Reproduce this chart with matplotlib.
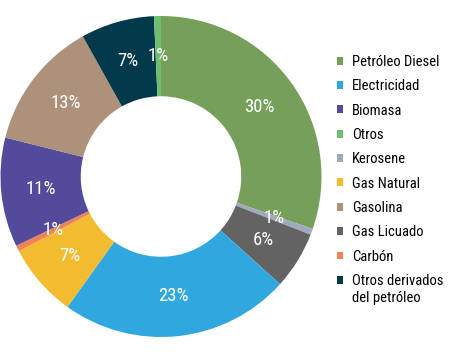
import matplotlib.pyplot as plt
from matplotlib.patches import Patch
from matplotlib.transforms import IdentityTransform

plt.rcParams['font.family'] = ['Roboto Condensed', 'Liberation Sans Narrow',
                               'Liberation Sans', 'DejaVu Sans']

# Wedges in drawing order (clockwise from the top)
labels = ['Petróleo Diesel', 'Kerosene', 'Gas Licuado', 'Electricidad', 'Gas Natural',
          'Carbón', 'Biomasa', 'Gasolina', 'Otros derivados', 'Otros']
shares = [30.3, 0.6, 5.8, 23.2, 7.4, 0.6, 11.0, 13.0, 7.4, 0.7]
colors = ['#76a05a', '#a1a9bf', '#636363', '#30a8df', '#f3bb30',
          '#f08353', '#524a9b', '#ad917b', '#023a4c', '#6dbe6e']

# Legend order as in the reference
legend_order = ['Petróleo Diesel', 'Electricidad', 'Biomasa', 'Otros', 'Kerosene',
                'Gas Natural', 'Gasolina', 'Gas Licuado', 'Carbón', 'Otros derivados']

fig = plt.figure(figsize=(4.49, 3.54), dpi=100)
ax = fig.add_axes([0.0, 17 / 354, 322 / 449, 321 / 354])

wedges, texts, autotexts = ax.pie(
    shares, colors=colors, startangle=90, counterclock=False,
    autopct='%.0f%%', pctdistance=0.75,
    wedgeprops=dict(width=0.5, linewidth=0),
    textprops=dict(color='white', fontsize=13.5))
ax.set_xlim(-1, 1)
ax.set_ylim(-1, 1)

color_of = dict(zip(labels, colors))
handles = [Patch(facecolor=color_of[name], label=name) for name in legend_order]
leg = fig.legend(handles=handles, loc='upper left', bbox_to_anchor=(331 / 449, 1 - 49 / 354),
                 frameon=False, fontsize=10.5, handlelength=0.45, handleheight=0.45,
                 handletextpad=0.58, labelspacing=0.71, borderaxespad=0)

# second line of the last legend entry, kept under its first line
fig.canvas.draw()
bb = leg.get_texts()[-1].get_window_extent()
fig.text(bb.x0, bb.y0 - 3, 'del petróleo', transform=IdentityTransform(),
         va='top', ha='left', fontsize=10.5)

fig.savefig('out.png', dpi=100)
